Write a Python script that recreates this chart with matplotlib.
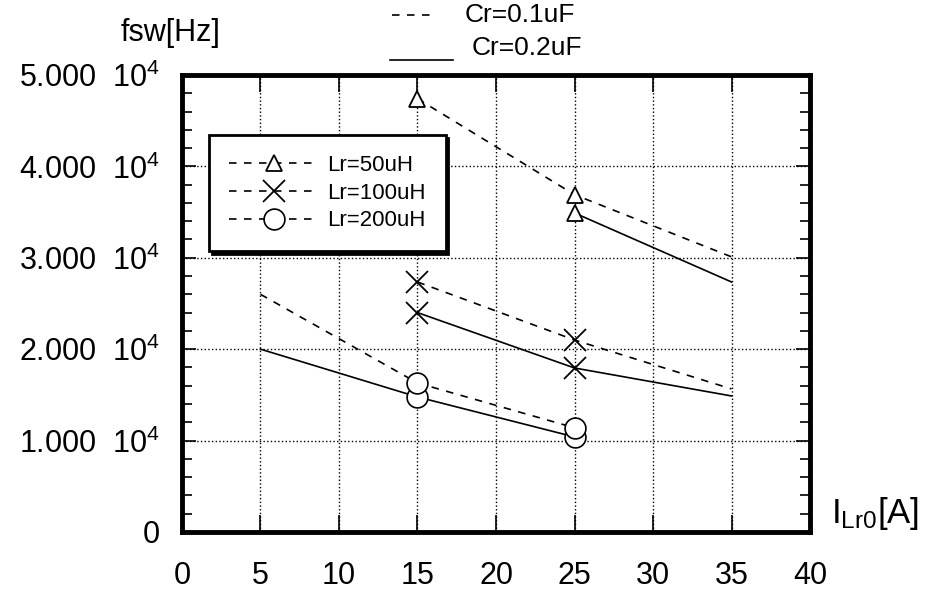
import matplotlib
matplotlib.use('Agg')
import matplotlib.pyplot as plt
from matplotlib.lines import Line2D
from matplotlib.ticker import FuncFormatter, MultipleLocator

plt.rcParams['font.family'] = ['Liberation Sans', 'DejaVu Sans']

# data (x = I_Lr0 [A], y = fsw [Hz])
x_50_c01 = [15, 25, 35]
y_50_c01 = [47400, 36900, 30100]
x_50_c02 = [25, 35]
y_50_c02 = [34900, 27350]

x_100_c01 = [15, 25, 35]
y_100_c01 = [27350, 21000, 15650]
x_100_c02 = [15, 25, 35]
y_100_c02 = [24000, 17940, 14880]

x_200_c01 = [5, 15, 25]
y_200_c01 = [26000, 16300, 11400]
x_200_c02 = [5, 15, 25]
y_200_c02 = [20000, 14770, 10400]

x_ticks = [0, 5, 10, 15, 20, 25, 30, 35, 40]
y_ticks = [0, 10000, 20000, 30000, 40000, 50000]


def marked(xs):
    # markers only where measurements were taken (x = 15 and 25)
    return [i for i, v in enumerate(xs) if v in (15, 25)]


def main():
    fig = plt.figure(figsize=(9.41, 5.92), dpi=100)
    ax = fig.add_axes([0.1934, 0.1014, 0.6674, 0.772])

    dash = (0, (4.5, 4.5))
    tri = dict(marker='^', markersize=12, markerfacecolor='white',
               markeredgecolor='black', markeredgewidth=1.3)
    crs = dict(marker='x', markersize=16, markeredgecolor='black',
               markeredgewidth=1.3)
    circ = dict(marker='o', markersize=15, markerfacecolor='white',
                markeredgecolor='black', markeredgewidth=1.2)

    # solid (Cr=0.2uF) first so the dashed markers sit on top
    ax.plot(x_50_c02, y_50_c02, color='black', lw=1.2,
            markevery=marked(x_50_c02), **tri)
    ax.plot(x_100_c02, y_100_c02, color='black', lw=1.2,
            markevery=marked(x_100_c02), **crs)
    ax.plot(x_200_c02, y_200_c02, color='black', lw=1.2,
            markevery=marked(x_200_c02), **circ)

    l1, = ax.plot(x_50_c01, y_50_c01, color='black', lw=1.2, ls=dash,
                  markevery=marked(x_50_c01), **tri)
    l2, = ax.plot(x_100_c01, y_100_c01, color='black', lw=1.2, ls=dash,
                  markevery=marked(x_100_c01), **crs)
    l3, = ax.plot(x_200_c01, y_200_c01, color='black', lw=1.2, ls=dash,
                  markevery=marked(x_200_c01), **circ)

    ax.set_xlim(0, 40)
    ax.set_ylim(0, 50000)
    ax.set_xticks(x_ticks)
    ax.set_yticks(y_ticks)
    ax.yaxis.set_minor_locator(MultipleLocator(2000))

    def yfmt(v, pos):
        if v == 0:
            return '0'
        return '%.3f  $\\mathregular{10^4}$' % (v / 1e4)

    ax.yaxis.set_major_formatter(FuncFormatter(yfmt))
    ax.grid(True, which='major', color='black', ls=':', lw=1.0)

    ax.tick_params(axis='both', which='both', direction='in',
                   top=True, right=True, colors='black')
    ax.tick_params(axis='x', which='major', length=12, width=1.2,
                   labelsize=22, pad=21)
    ax.tick_params(axis='y', which='major', length=10, width=1.2,
                   labelsize=22, pad=16)
    ax.tick_params(axis='y', which='minor', length=7, width=1.2)
    for s in ax.spines.values():
        s.set_linewidth(3.5)

    # marker legend with a hard black shadow
    leg = ax.legend([l1, l2, l3], ['Lr=50uH', 'Lr=100uH', 'Lr=200uH'],
                    loc='upper left', bbox_to_anchor=(0.026, 0.893),
                    fontsize=16, handlelength=4.0, numpoints=1,
                    fancybox=False, framealpha=1, edgecolor='black',
                    shadow={'color': 'black', 'alpha': 1},
                    borderpad=0.9, labelspacing=0.3, handletextpad=0.4)
    leg.get_frame().set_linewidth(2.0)

    # line-style key above the plot
    fig.add_artist(Line2D([392 / 941, 430 / 941], [1 - 15 / 592, 1 - 15 / 592],
                          color='black', lw=1.2, ls=dash))
    fig.add_artist(Line2D([390 / 941, 453 / 941], [1 - 60 / 592, 1 - 60 / 592],
                          color='black', lw=1.2))
    fig.text(465 / 941, 1 - 15 / 592, 'Cr=0.1uF', fontsize=19,
             ha='left', va='center')
    fig.text(472 / 941, 1 - 48 / 592, 'Cr=0.2uF', fontsize=19,
             ha='left', va='center')

    fig.text(171 / 941, 1 - 33 / 592, 'fsw[Hz]', fontsize=22, ha='center',
             va='center')
    ax.text(1.034, 0.04, '$\\mathregular{I_{Lr0}[A]}$', fontsize=25,
            transform=ax.transAxes, ha='left', va='center')

    fig.savefig('out.png', dpi=100)


if __name__ == '__main__':
    main()
